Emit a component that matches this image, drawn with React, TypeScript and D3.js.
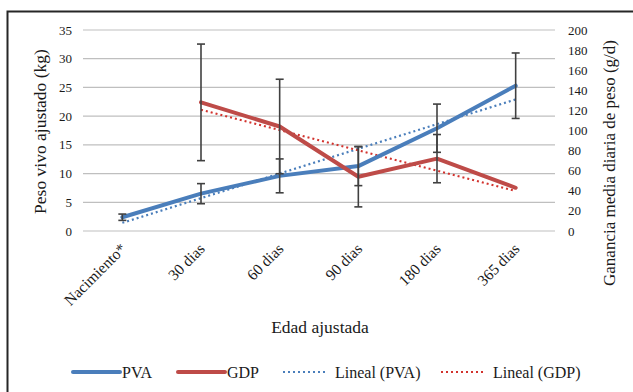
import React, { useEffect, useRef } from 'react';
import * as d3 from 'd3';

// categories (x axis)
const edades = ['Nacimiento*', '30 dias', '60 dias', '90 dias', '180 dias', '365 dias'];
// peso vivo ajustado (kg) - left axis
const pva = [2.4, 6.5, 9.6, 11.3, 17.9, 25.3];
const pvaErr = [0.55, 1.75, 2.95, 3.4, 4.2, 5.7];
// ganancia diaria de peso (g/d) - right axis
const gdp = [null, 128, 104, 54, 72, 43];
const gdpErr = [null, 58, 47, 30, 24, 0];
const leftTicks = [0, 5, 10, 15, 20, 25, 30, 35];
const rightTicks = [0, 20, 40, 60, 80, 100, 120, 140, 160, 180, 200];

const BLUE = '#4a7ebb';
const RED = '#be4b48';
const FONT = 'Liberation Serif, DejaVu Serif, serif';

// least squares fit, index-based like Excel trendline
function linfit(vals) {
  const pts = vals.map((v, i) => [i + 1, v]).filter(p => p[1] != null);
  const mx = d3.mean(pts, p => p[0]);
  const my = d3.mean(pts, p => p[1]);
  const b = d3.sum(pts, p => (p[0] - mx) * (p[1] - my)) / d3.sum(pts, p => (p[0] - mx) ** 2);
  const a = my - b * mx;
  return pts.map(p => [p[0], a + b * p[0]]);
}

export default function App() {
  const ref = useRef(null);

  useEffect(() => {
    const width = 633, height = 392;
    const svg = d3.select(ref.current);
    svg.selectAll('*').remove();

    const left = 83, right = 555, top = 30, bottom = 231;

    svg.append('rect')
      .attr('x', 7.5).attr('y', 11.5)
      .attr('width', width + 10).attr('height', height + 10)
      .attr('fill', 'white').attr('stroke', '#262626').attr('stroke-width', 2);

    const x = d3.scaleBand().domain(edades).range([left, right]);
    const xc = d => x(d) + x.bandwidth() / 2;
    const yL = d3.scaleLinear().domain([0, 35]).range([bottom, top]);
    const yR = d3.scaleLinear().domain([0, 200]).range([bottom, top]);

    const txt = (sel, size) => sel.attr('font-family', FONT).attr('font-size', size).attr('fill', '#1a1a1a');

    // grid
    svg.append('g').selectAll('line').data(leftTicks).join('line')
      .attr('x1', left).attr('x2', right)
      .attr('y1', d => yL(d)).attr('y2', d => yL(d))
      .attr('stroke', '#bfbfbf').attr('stroke-width', 1.2);

    // left axis labels
    txt(svg.append('g'), 13).selectAll('text').data(leftTicks).join('text')
      .attr('x', 72).attr('y', d => yL(d)).attr('dy', '0.35em')
      .attr('text-anchor', 'end')
      .text(d => d);

    // right axis labels
    txt(svg.append('g'), 13).selectAll('text').data(rightTicks).join('text')
      .attr('x', 568).attr('y', d => yR(d)).attr('dy', '0.35em')
      .attr('text-anchor', 'start')
      .text(d => d);

    // x labels
    txt(svg.append('g'), 15.5).selectAll('text').data(edades).join('text')
      .attr('transform', d => `translate(${xc(d) + 1},${246}) rotate(-45)`)
      .attr('text-anchor', 'end').attr('dy', '0.35em')
      .text(d => d);

    // axis titles
    txt(svg.append('text'), 17.5)
      .attr('transform', `translate(46,${(top + bottom) / 2 + 1}) rotate(-90)`)
      .attr('text-anchor', 'middle')
      .text('Peso vivo ajustado (kg)');
    txt(svg.append('text'), 17)
      .attr('transform', `translate(615,163) rotate(-90)`)
      .attr('text-anchor', 'middle')
      .text('Ganancia media diaria de peso (g/d)');
    txt(svg.append('text'), 17.5)
      .attr('x', 320).attr('y', 333)
      .attr('text-anchor', 'middle')
      .text('Edad ajustada');

    // trend lines
    const trendLine = (scale) => d3.line().x(p => xc(edades[p[0] - 1])).y(p => scale(p[1]));
    svg.append('path').attr('d', trendLine(yL)(linfit(pva)))
      .attr('fill', 'none').attr('stroke', BLUE).attr('stroke-width', 2.2)
      .attr('stroke-dasharray', '2,3');
    svg.append('path').attr('d', trendLine(yR)(linfit(gdp)))
      .attr('fill', 'none').attr('stroke', '#d2322d').attr('stroke-width', 2.2)
      .attr('stroke-dasharray', '2,3');

    // series lines
    const pvaLine = d3.line().x((d, i) => xc(edades[i])).y(d => yL(d));
    svg.append('path').attr('d', pvaLine(pva))
      .attr('fill', 'none').attr('stroke', BLUE).attr('stroke-width', 4)
      .attr('stroke-linejoin', 'round').attr('stroke-linecap', 'round');
    const gdpLine = d3.line().defined(d => d != null).x((d, i) => xc(edades[i])).y(d => yR(d));
    svg.append('path').attr('d', gdpLine(gdp))
      .attr('fill', 'none').attr('stroke', RED).attr('stroke-width', 4)
      .attr('stroke-linejoin', 'round').attr('stroke-linecap', 'round');

    // error bars
    const errs = [];
    pva.forEach((v, i) => errs.push({ cx: xc(edades[i]), lo: yL(v - pvaErr[i]), hi: yL(v + pvaErr[i]) }));
    gdp.forEach((v, i) => {
      if (v != null && gdpErr[i]) errs.push({ cx: xc(edades[i]), lo: yR(v - gdpErr[i]), hi: yR(v + gdpErr[i]) });
    });
    const eg = svg.append('g').attr('stroke', '#404040').attr('stroke-width', 1.6);
    errs.forEach(e => {
      eg.append('line').attr('x1', e.cx).attr('x2', e.cx).attr('y1', e.lo).attr('y2', e.hi);
      eg.append('line').attr('x1', e.cx - 4).attr('x2', e.cx + 4).attr('y1', e.lo).attr('y2', e.lo);
      eg.append('line').attr('x1', e.cx - 4).attr('x2', e.cx + 4).attr('y1', e.hi).attr('y2', e.hi);
    });

    // legend
    const legend = [
      { label: 'PVA', color: BLUE, dash: null, x0: 73, x1: 120 },
      { label: 'GDP', color: RED, dash: null, x0: 178, x1: 225 },
      { label: 'Lineal (PVA)', color: BLUE, dash: '2,3', x0: 283, x1: 325 },
      { label: 'Lineal (GDP)', color: '#d2322d', dash: '2,3', x0: 441, x1: 483 },
    ];
    const ly = 372;
    const lg = svg.append('g');
    legend.forEach(l => {
      lg.append('line').attr('x1', l.x0).attr('x2', l.x1).attr('y1', ly).attr('y2', ly)
        .attr('stroke', l.color).attr('stroke-width', l.dash ? 2 : 4)
        .attr('stroke-dasharray', l.dash).attr('stroke-linecap', l.dash ? 'butt' : 'round');
      txt(lg.append('text'), 16).attr('x', l.dash ? l.x1 + 10 : l.x1 + 2).attr('y', ly).attr('dy', '0.35em')
        .text(l.label);
    });
  }, []);

  return (
    <svg ref={ref} width={633} height={392}
      style={{ position: 'absolute', left: 0, top: 0, background: 'white' }} />
  );
}
